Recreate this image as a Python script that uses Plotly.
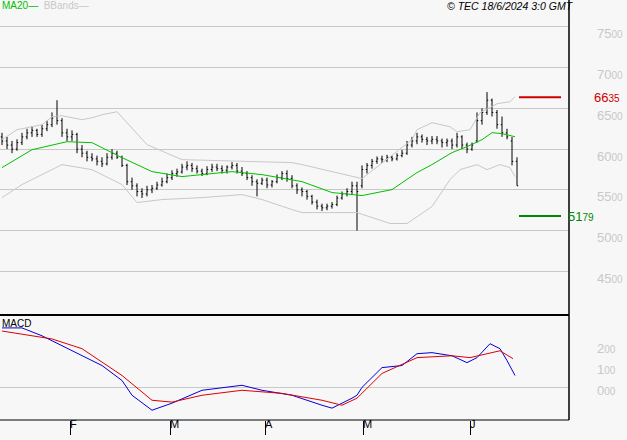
import plotly.graph_objects as go

# daily OHLC, bar index 0..103 (mid Jan -> 17 Jun 2024)
opens = [6150, 6100, 6050, 6000,
         6080, 6150, 6200, 6230, 6180, 6250, 6300,
         6400,
         6350, 6200, 6150,
         6180, 6000, 5950, 5900, 5880, 5850,
         5820, 5900, 5950, 5900,
         5800, 5600, 5550, 5480,
         5450, 5500, 5520, 5560,
         5600, 5650, 5700, 5720, 5780,
         5800, 5760, 5730, 5700, 5750,
         5780, 5760, 5740, 5780, 5800, 5730,
         5700, 5650, 5600, 5580,
         5620, 5560, 5600, 5650, 5700,
         5640, 5550, 5500, 5480,
         5420, 5350, 5300, 5280, 5300,
         5320, 5400, 5450, 5480,
         5550,
         5550, 5750, 5800, 5850,
         5880, 5870, 5900, 5880, 5920,
         5950, 6050, 6100, 6150, 6120, 6100,
         6120, 6100, 6080, 6100, 6050,
         6150, 6050, 6000,
         6100, 6350,
         6450,
         6600, 6450,
         6300, 6200,
         6100,
         5850]
highs = [6200, 6150, 6100, 6120,
         6200, 6250, 6280, 6250, 6300, 6350, 6450,
         6600,
         6380, 6250, 6230,
         6200, 6050, 5980, 5950, 5920, 5900,
         5950, 6000, 5980, 5920,
         5820, 5650, 5580, 5520,
         5550, 5560, 5600, 5650,
         5700, 5740, 5760, 5820, 5850,
         5830, 5800, 5760, 5790, 5820,
         5820, 5800, 5800, 5840, 5830, 5780,
         5730, 5680, 5630, 5650,
         5650, 5620, 5690, 5730, 5740,
         5680, 5580, 5530, 5500,
         5440, 5380, 5330, 5330, 5350,
         5430, 5480, 5520, 5600,
         5600,
         5800, 5830, 5880, 5910,
         5920, 5930, 5920, 5950, 5990,
         6100, 6150, 6200, 6180, 6150, 6160,
         6160, 6130, 6130, 6130, 6200,
         6170, 6080, 6080,
         6450, 6500,
         6700,
         6620, 6480,
         6400, 6250,
         6150,
         5900]
lows = [6050, 6000, 5950, 5980,
        6050, 6120, 6150, 6150, 6150, 6220, 6270,
        6300,
        6150, 6100, 6100,
        5950, 5900, 5850, 5850, 5800, 5780,
        5800, 5870, 5880, 5780,
        5560, 5500, 5420, 5400,
        5420, 5460, 5500, 5540,
        5580, 5620, 5660, 5700, 5740,
        5720, 5700, 5670, 5680, 5720,
        5730, 5700, 5700, 5750, 5700, 5670,
        5620, 5550, 5420, 5560,
        5520, 5530, 5580, 5620, 5600,
        5520, 5450, 5420, 5380,
        5320, 5260, 5240, 5250, 5270,
        5300, 5380, 5420, 5450,
        5000,
        5520, 5700, 5760, 5820,
        5830, 5840, 5850, 5860, 5900,
        5930, 6020, 6060, 6080, 6050, 6060,
        6060, 6020, 6030, 6000, 6020,
        6000, 5950, 5980,
        6080, 6300,
        6420,
        6400, 6250,
        6150, 6120,
        5800,
        5550]
closes = [6100, 6050, 6000, 6080,
          6150, 6200, 6230, 6180, 6250, 6300, 6380,
          6350,
          6200, 6150, 6180,
          6000, 5950, 5900, 5880, 5850, 5820,
          5900, 5950, 5900, 5800,
          5600, 5550, 5480, 5450,
          5500, 5520, 5560, 5600,
          5650, 5700, 5720, 5780, 5800,
          5760, 5730, 5700, 5750, 5780,
          5760, 5740, 5780, 5800, 5730, 5700,
          5650, 5600, 5580, 5620,
          5560, 5600, 5650, 5700, 5640,
          5550, 5500, 5480, 5420,
          5350, 5300, 5280, 5300, 5320,
          5400, 5450, 5480, 5550,
          5480,
          5750, 5800, 5850, 5880,
          5870, 5900, 5880, 5920, 5950,
          6050, 6100, 6150, 6120, 6100, 6120,
          6100, 6080, 6100, 6050, 6150,
          6050, 6000, 6050,
          6350, 6450,
          6600,
          6450, 6300,
          6200, 6150,
          5850,
          5550]
bar_idx = list(range(len(closes)))

ma_x = [0, 6, 13, 18, 24, 30, 36, 46, 52, 60, 66, 72, 78, 83, 86, 90, 93, 96, 98, 100, 102.6]
ma_y = [5773, 5993, 6091, 6079, 5895, 5724, 5663, 5724, 5687, 5601, 5467, 5430, 5503,
        5712, 5810, 5957, 6030, 6116, 6202, 6190, 6152]

up_x = [0, 3, 8, 10, 12, 16, 18, 20, 23, 29, 36, 52, 58, 60, 66, 72, 82, 83, 86, 89.6,
        91, 93.6, 95.6, 99, 101.6, 102.6]
up_y = [6116, 6238, 6300, 6398, 6410, 6361, 6385, 6422, 6459, 6055, 5871, 5846, 5834,
        5810, 5724, 5638, 6116, 6238, 6324, 6275, 6214, 6238, 6447, 6557, 6581, 6643]

lo_x = [0, 4, 12, 18, 24, 27, 32, 40, 48, 52, 58, 60, 71, 77.6, 81, 86, 89.6, 91.6, 95,
        97, 99.6, 101.6, 102.6]
lo_y = [5405, 5565, 5810, 5748, 5565, 5344, 5381, 5405, 5442, 5381, 5258, 5221, 5221,
        5087, 5087, 5295, 5626, 5748, 5810, 5748, 5810, 5773, 5663]

macd_x = [0, 4, 8, 12, 16, 20, 24, 26, 30, 34, 40, 48, 52, 58, 64, 66, 70, 71, 72, 76,
          80, 83, 86, 90, 93, 95, 97.6, 99.6, 101, 102.6]
macd_y = [286, 286, 248, 200, 152, 105, 33, -38, -110, -76, -14, 10, -14, -38, -86, -100,
          -52, -38, 0, 95, 105, 162, 167, 152, 119, 143, 210, 186, 129, 57]
sig_x = [0, 10, 16, 24, 30, 34, 40, 48, 56, 64, 68, 71, 76, 83, 90, 93.6, 99.6, 102.2]
sig_y = [271, 233, 186, 57, -62, -71, -38, -14, -29, -62, -86, -52, 67, 143, 152, 143, 176, 138]

month_pos = [13.6, 33.6, 52.6, 72.2, 93.6]
month_lbl = ["F", "M", "A", "M", "J"]
price_ticks = [7500, 7000, 6500, 6000, 5500, 5000, 4500]
macd_ticks = [200, 100, 0]
resist, support = 6635, 5179

FONT = "Liberation Sans, Arial, sans-serif"

fig = go.Figure()
fig.add_trace(go.Ohlc(x=bar_idx, open=opens, high=highs, low=lows, close=closes,
                      increasing_line_color="black", decreasing_line_color="black",
                      line_width=1, tickwidth=0.25, yaxis="y2"))
fig.add_trace(go.Scatter(x=up_x, y=up_y, mode="lines", line=dict(color="#c8c8c8", width=1), yaxis="y2"))
fig.add_trace(go.Scatter(x=lo_x, y=lo_y, mode="lines", line=dict(color="#c8c8c8", width=1), yaxis="y2"))
fig.add_trace(go.Scatter(x=ma_x, y=ma_y, mode="lines", line=dict(color="#00c000", width=1), yaxis="y2"))
fig.add_trace(go.Scatter(x=[103.4, 111.8], y=[resist, resist], mode="lines",
                         line=dict(color="#cc0000", width=2), yaxis="y2"))
fig.add_trace(go.Scatter(x=[103.4, 111.8], y=[support, support], mode="lines",
                         line=dict(color="#008800", width=2), yaxis="y2"))
fig.add_trace(go.Scatter(x=macd_x, y=macd_y, mode="lines", line=dict(color="#0000dd", width=1), yaxis="y"))
fig.add_trace(go.Scatter(x=sig_x, y=sig_y, mode="lines", line=dict(color="#dd0000", width=1), yaxis="y"))

SMALL = "<span style='font-size:10px'>{}</span>"
ann = []
for p in price_ticks:
    ann.append(dict(x=1.045, xref="paper", y=p, yref="y2", yshift=-7, xanchor="left",
                    text=str(p)[:2] + SMALL.format(str(p)[2:]),
                    showarrow=False, font=dict(color="#c8c8c8", size=13, family=FONT)))
for m in macd_ticks:
    t = f"{m:03d}"
    ann.append(dict(x=1.045, xref="paper", y=m, yref="y", yshift=-3, xanchor="left",
                    text=t[:-2] + SMALL.format(t[-2:]),
                    showarrow=False, font=dict(color="#c8c8c8", size=13, family=FONT)))
ann.append(dict(x=1.04, xref="paper", y=resist, yref="y2", xanchor="left",
                text="66" + SMALL.format("35"), showarrow=False,
                font=dict(color="#cc0000", size=13, family=FONT)))
ann.append(dict(x=0.995, xref="paper", y=support, yref="y2", xanchor="left",
                text="51" + SMALL.format("79"), showarrow=False,
                font=dict(color="#008800", size=13, family=FONT)))
for pos, lbl in zip(month_pos, month_lbl):
    ann.append(dict(x=pos, xref="x", y=0, yref="paper", yshift=-12, xanchor="left", xshift=-2,
                    text=lbl, showarrow=False, font=dict(color="black", size=11, family=FONT)))
ann += [
    dict(x=0, xref="paper", y=1, yref="paper", yshift=2, xanchor="left", yanchor="top",
         text="MA20<span style='color:#00c000'>—</span>  <span style='color:#c8c8c8'>BBands—</span>",
         showarrow=False, font=dict(color="#00c000", size=10, family=FONT)),
    dict(x=1.012, xref="paper", y=1, yref="paper", yshift=2, xanchor="right", yanchor="top",
         text="<i>© TEC 18/6/2024 3:0 GMT</i>", showarrow=False,
         font=dict(color="black", size=10.5, family=FONT)),
    dict(x=0, xref="paper", y=0.248, yref="paper", xanchor="left", yanchor="top",
         text="MACD", showarrow=False, font=dict(color="black", size=10, family=FONT)),
]

fig.update_layout(
    width=627, height=440, margin=dict(l=0, r=58, t=0, b=20, autoexpand=False),
    paper_bgcolor="#f7f7f7", plot_bgcolor="#f7f7f7", showlegend=False,
    xaxis=dict(range=[-0.4, 113.4], tickvals=month_pos, ticktext=["" for _ in month_pos],
               ticks="outside", ticklen=14, tickcolor="black", showgrid=False,
               zeroline=False, rangeslider=dict(visible=False), showline=False),
    yaxis=dict(domain=[0, 0.245], range=[-157, 338], tickvals=[0], showticklabels=False,
               gridcolor="#c8c8c8", zeroline=False),
    yaxis2=dict(domain=[0.255, 1], range=[3990, 7830], tickvals=price_ticks + [4000],
                showticklabels=False, gridcolor="#c8c8c8", zeroline=False),
    annotations=ann,
    shapes=[
        dict(type="line", xref="paper", yref="paper", x0=1, x1=1, y0=0, y1=1,
             line=dict(color="black", width=1.5)),
        dict(type="line", xref="paper", yref="paper", x0=0, x1=1, y0=0.25, y1=0.25,
             line=dict(color="black", width=2)),
        dict(type="line", xref="paper", yref="paper", x0=0, x1=1, y0=0, y1=0,
             line=dict(color="black", width=1)),
    ],
)

fig.write_html("out.html", config={"displayModeBar": False},
               post_script="document.body.style.margin='0';document.body.style.background='#f7f7f7';")
